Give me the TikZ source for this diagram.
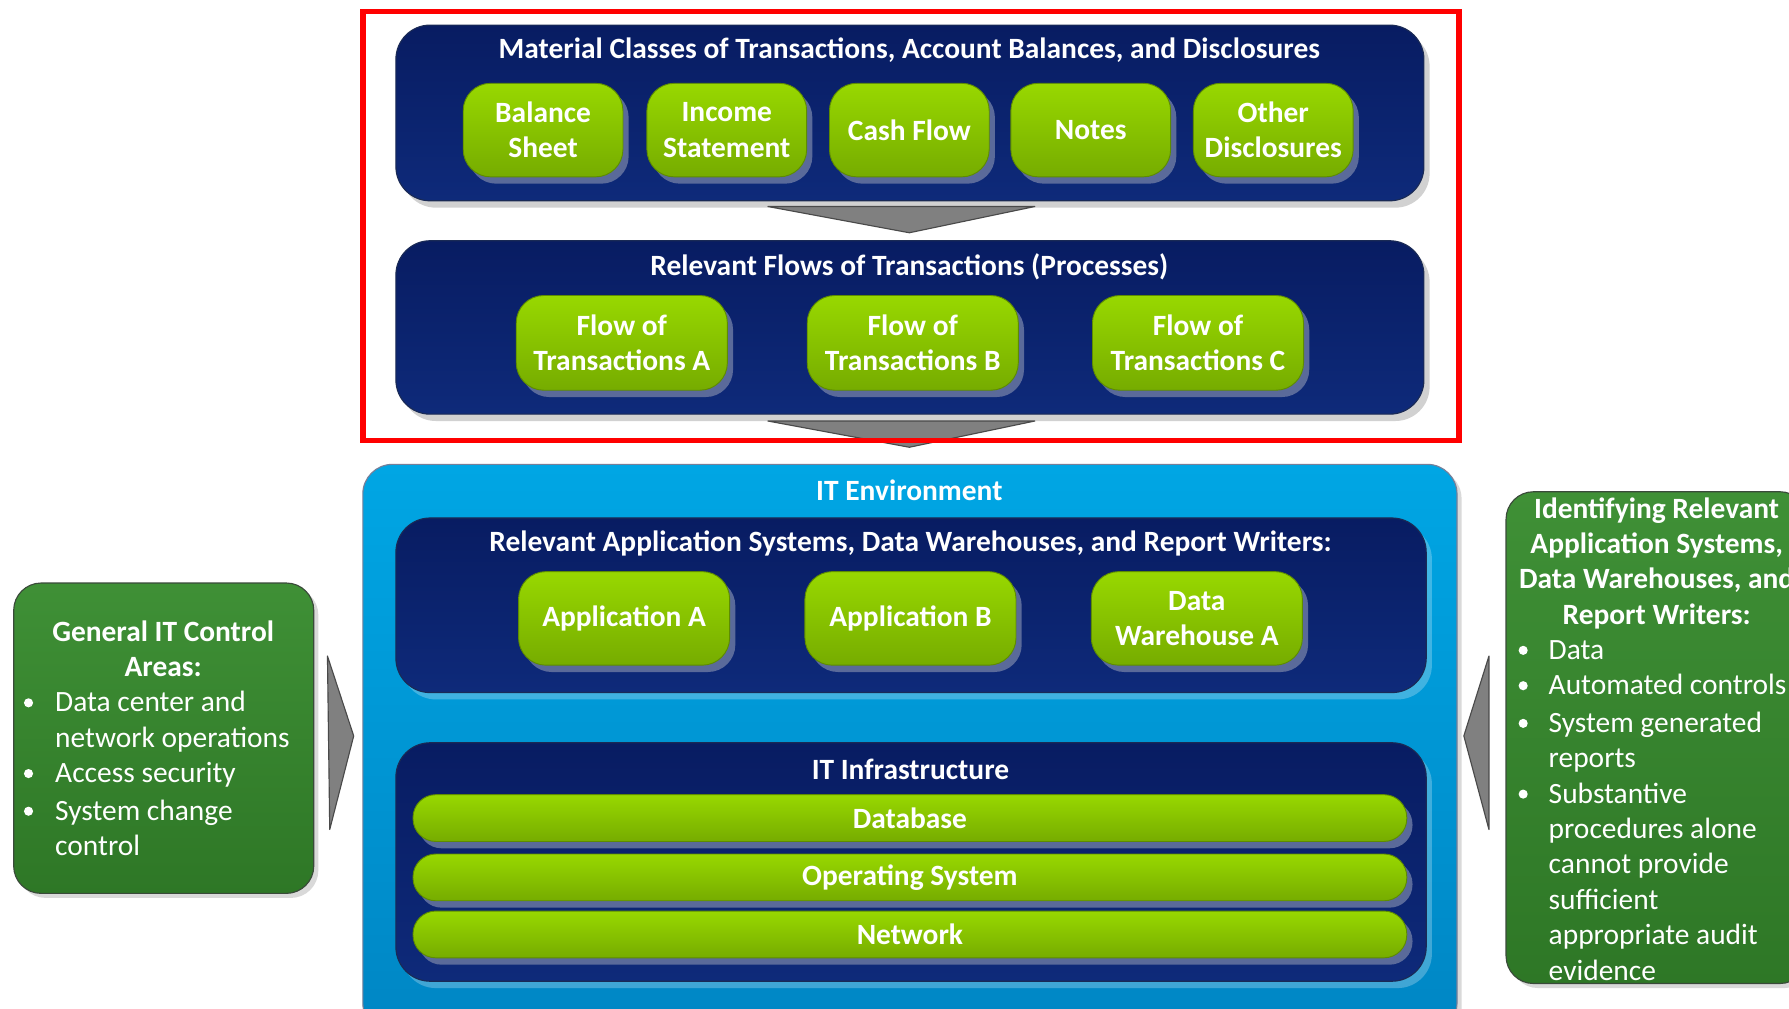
\documentclass[tikz,border=0pt]{standalone}
\usepackage{fontspec}
\setmainfont{Carlito}
\usetikzlibrary{shadows}
\definecolor{navyTop}{HTML}{081C62}
\definecolor{navyBot}{HTML}{0E2A7A}
\definecolor{navyLine}{HTML}{1A2A55}
\definecolor{envTop}{HTML}{00A6E4}
\definecolor{envBot}{HTML}{0086C4}
\definecolor{limeTop}{HTML}{98D800}
\definecolor{limeBot}{HTML}{76AC00}
\definecolor{limeLine}{HTML}{5E8C00}
\definecolor{btnShadow}{HTML}{5A6A9A}
\definecolor{sideTop}{HTML}{3F9036}
\definecolor{sideBot}{HTML}{2E7726}
\definecolor{sideLine}{HTML}{3A4A3A}
\definecolor{arrowFill}{HTML}{808080}
\definecolor{arrowLine}{HTML}{4A4A4A}
\definecolor{redFrame}{HTML}{FF0000}
\newcommand\myfs{\fontsize{12.9}{15.5}\selectfont}
\tikzset{
  navybox/.style={draw=navyLine, line width=0.5pt, top color=navyTop, bottom color=navyBot,
    rounded corners=15pt, inner sep=0pt,
    general shadow={fill=black, opacity=0.18, shadow xshift=2.5pt, shadow yshift=-3pt}},
  innerbox/.style={draw=navyLine, line width=0.5pt, top color=navyTop, bottom color=navyBot,
    rounded corners=15pt, inner sep=0pt,
    general shadow={fill=white, opacity=0.25, shadow xshift=2.5pt, shadow yshift=-3pt}},
  envbox/.style={draw=navyLine!60, line width=0.5pt, top color=envTop, bottom color=envBot,
    rounded corners=13pt, inner sep=0pt,
    general shadow={fill=black, opacity=0.15, shadow xshift=2pt, shadow yshift=-2pt}},
  btn/.style={draw=limeLine, line width=0.4pt, top color=limeTop, bottom color=limeBot,
    rounded corners=12pt, inner sep=0pt, align=center, text=white,
    font=\bfseries\myfs,
    general shadow={fill=btnShadow, shadow xshift=2.5pt, shadow yshift=-3pt}},
  bar/.style={btn, rounded corners=10pt, minimum width=435.5pt, minimum height=20.5pt},
  sidebox/.style={draw=sideLine, line width=0.5pt, top color=sideTop, bottom color=sideBot,
    rounded corners=12pt, inner sep=0pt,
    general shadow={fill=black, opacity=0.15, shadow xshift=2pt, shadow yshift=-2pt}},
  titletext/.style={text=white, font=\bfseries\myfs, inner sep=0pt},
  sidetitle/.style={text=white, font=\bfseries\myfs, align=center, inner sep=0pt},
  sidetext/.style={text=white, font=\myfs, align=left, inner sep=0pt},
  bulletdot/.style={circle, fill=white, inner sep=0pt, minimum size=4pt},
  greyarrow/.style={fill=arrowFill, draw=arrowLine, line width=0.5pt, line join=round}
}
\begin{document}
\begin{tikzpicture}[x=0.5pt,y=-0.5pt]
\useasboundingbox (0,0) rectangle (1568,884);
\clip (0,0) rectangle (1568,884);
\fill[white] (0,0) rectangle (1568,884);

% ---------- Material classes ----------
\node[navybox, minimum width=450.5pt, minimum height=77pt] (mat) at (797.5,99) {};
\node[titletext] (matT) at (797,44) {Material Classes of Transactions, Account Balances, and Disclosures};
\node[btn, minimum width=70pt, minimum height=41pt] (bs) at (476,114) {Balance\\Sheet};
\node[btn, minimum width=70pt, minimum height=41pt] (is) at (637,114) {Income\\Statement};
\node[btn, minimum width=70pt, minimum height=41pt] (cf) at (797,114) {Cash Flow};
\node[btn, minimum width=70pt, minimum height=41pt] (nt) at (956,114) {Notes};
\node[btn, minimum width=70pt, minimum height=41pt] (od) at (1116,114) {Other\\Disclosures};

% arrow 1
\coordinate (a1l) at (673,181);
\coordinate (a1r) at (907,181);
\coordinate (a1p) at (797,204);
\draw[greyarrow] (a1l) -- (a1r) -- (a1p) -- cycle;

% ---------- Flows ----------
\node[navybox, minimum width=450.5pt, minimum height=76pt] (flow) at (797.5,287) {};
\node[titletext] (flowT) at (797,234) {Relevant Flows of Transactions (Processes)};
\node[btn, minimum width=92.5pt, minimum height=41.5pt] (fa) at (545,300.5) {Flow of\\Transactions A};
\node[btn, minimum width=92.5pt, minimum height=41.5pt] (fb) at (800,300.5) {Flow of\\Transactions B};
\node[btn, minimum width=92.5pt, minimum height=41.5pt] (fc) at (1050,300.5) {Flow of\\Transactions C};

% arrow 2
\coordinate (a2l) at (673,369);
\coordinate (a2r) at (907,369);
\coordinate (a2p) at (797,392);
\draw[greyarrow] (a2l) -- (a2r) -- (a2p) -- cycle;

% ---------- IT environment ----------
\node[envbox, minimum width=479.5pt, minimum height=249pt] (env) at (797.5,656) {};
\node[titletext] (envT) at (797,430) {IT Environment};

\node[innerbox, minimum width=451.5pt, minimum height=76.5pt] (apps) at (798.5,530.5) {};
\node[titletext] (appsT) at (798,476) {Relevant Application Systems, Data Warehouses, and Report Writers:};
\node[btn, minimum width=92.5pt, minimum height=41pt] (aa) at (547,542) {Application A};
\node[btn, minimum width=92.5pt, minimum height=41pt] (ab) at (798,542) {Application B};
\node[btn, minimum width=92.5pt, minimum height=41pt] (dw) at (1049,542) {Data\\Warehouse A};

\node[innerbox, minimum width=451.5pt, minimum height=104.5pt] (infra) at (798.5,755.5) {};
\node[titletext] (infraT) at (798,674) {IT Infrastructure};
\node[bar] (db) at (797.5,717) {Database};
\node[bar] (os) at (797.5,769) {Operating System};
\node[bar] (nw) at (797.5,819) {Network};

% ---------- Left side box ----------
\node[sidebox, minimum width=131.5pt, minimum height=136pt] (gen) at (143.5,647) {};
\node[sidetitle, anchor=base] (genT) at (143,593) {General IT Control\\Areas:};
\node[bulletdot] (gb1) at (25,616) {};
\node[sidetext, anchor=base west] (g1) at (48,655) {Data center and\\network operations};
\node[bulletdot] (gb2) at (25,678) {};
\node[sidetext, anchor=base west] (g2) at (48,686) {Access security};
\node[bulletdot] (gb3) at (25,711) {};
\node[sidetext, anchor=base west] (g3) at (48,750) {System change\\control};

\coordinate (la1) at (287,575);
\coordinate (la2) at (289,727);
\coordinate (lap) at (310,645);
\draw[greyarrow] (la1) -- (lap) -- (la2) -- cycle;

% ---------- Right side box ----------
\node[sidebox, minimum width=132pt, minimum height=215.5pt] (ident) at (1452,646.5) {};
\node[sidetitle, anchor=base] (identT) at (1452,547) {Identifying Relevant\\Application Systems,\\Data Warehouses, and\\Report Writers:};
\node[bulletdot] (rb1) at (1335,570) {};
\node[sidetext, anchor=base west] (r1) at (1357,578) {Data};
\node[bulletdot] (rb2) at (1335,601) {};
\node[sidetext, anchor=base west] (r2) at (1357,609) {Automated controls};
\node[bulletdot] (rb3) at (1335,634) {};
\node[sidetext, anchor=base west] (r3) at (1357,673) {System generated\\reports};
\node[bulletdot] (rb4) at (1335,696) {};
\node[sidetext, anchor=base west] (r4) at (1357,859) {Substantive\\procedures alone\\cannot provide\\sufficient\\appropriate audit\\evidence};

\coordinate (ra1) at (1305,575);
\coordinate (ra2) at (1305,727);
\coordinate (rap) at (1283,645);
\draw[greyarrow] (ra1) -- (rap) -- (ra2) -- cycle;

% ---------- Red frame ----------
\node[draw=redFrame, line width=2.5pt, minimum width=480.5pt, minimum height=188pt, inner sep=0pt] (frame) at (798.5,198) {};
\end{tikzpicture}
\end{document}
